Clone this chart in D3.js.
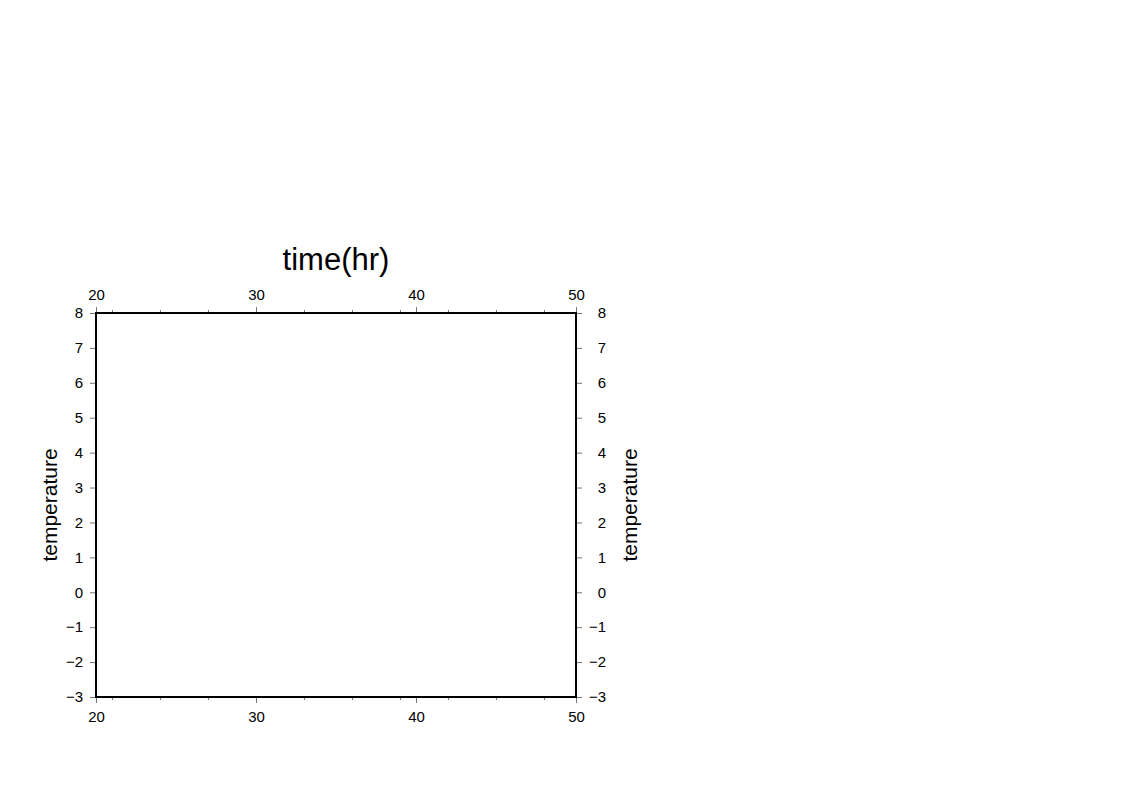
<!DOCTYPE html>
<html><head><meta charset="utf-8">
<script src="https://cdn.jsdelivr.net/npm/d3@7"></script>
<style>body{margin:0;background:#fff;} text{font-family:"Liberation Sans",Helvetica,Arial,sans-serif;}</style>
</head><body>
<svg id="c" width="1123" height="793"></svg>
<script>
const xDomain = [20, 50];
const yDomain = [-3, 8];
const xMajorTicks = [20, 30, 40, 50];
const xMinorTicks = [21, 24, 27, 33, 36, 39, 42, 45, 48];
const yTicks = [-3, -2, -1, 0, 1, 2, 3, 4, 5, 6, 7, 8];
const xTitle = "time(hr)";
const yTitle = "temperature";

const svg = d3.select("#c");
const L = 96, R = 576, T = 313, B = 697;
const x = d3.scaleLinear().domain(xDomain).range([L, R]);
const y = d3.scaleLinear().domain(yDomain).range([B, T]);
const fmt = d3.format("d");
const FS = 15;

function styleAxis(g, size){
  g.select(".domain").remove();
  g.selectAll(".tick line").attr("stroke", "#777").attr("stroke-width", 1);
  g.selectAll(".tick text").attr("fill", "#000").style("font-size", size + "px")
    .style("font-family", '"Liberation Sans",Helvetica,Arial,sans-serif');
}

// major x axes
svg.append("g").attr("transform", `translate(0,${T})`)
  .call(d3.axisTop(x).tickValues(xMajorTicks).tickFormat(fmt).tickSize(6).tickPadding(7))
  .call(g => styleAxis(g, FS));
svg.append("g").attr("transform", `translate(0,${B})`)
  .call(d3.axisBottom(x).tickValues(xMajorTicks).tickFormat(fmt).tickSize(6).tickPadding(8))
  .call(g => styleAxis(g, FS));
// minor x ticks
svg.append("g").attr("transform", `translate(0,${T})`)
  .call(d3.axisTop(x).tickValues(xMinorTicks).tickFormat("").tickSize(3))
  .call(g => styleAxis(g, FS));
svg.append("g").attr("transform", `translate(0,${B})`)
  .call(d3.axisBottom(x).tickValues(xMinorTicks).tickFormat("").tickSize(3))
  .call(g => styleAxis(g, FS));
// y axes
svg.append("g").attr("transform", `translate(${L},0)`)
  .call(d3.axisLeft(y).tickValues(yTicks).tickFormat(fmt).tickSize(6).tickPadding(7))
  .call(g => styleAxis(g, FS));
svg.append("g").attr("transform", `translate(${R},0)`)
  .call(d3.axisRight(y).tickValues(yTicks).tickFormat(fmt).tickSize(6).tickPadding(24))
  .call(g => styleAxis(g, FS))
  .call(g => g.selectAll(".tick text").attr("text-anchor", "end").attr("x", 30));

// frame
svg.append("rect").attr("x", L).attr("y", T).attr("width", R - L).attr("height", B - T)
  .attr("fill", "none").attr("stroke", "#000").attr("stroke-width", 2);

// titles
svg.append("text").attr("x", (L + R) / 2).attr("y", 270).attr("text-anchor", "middle")
  .style("font-size", "31px").attr("fill", "#000").text(xTitle);
svg.append("text").attr("transform", `translate(57,${(T + B) / 2}) rotate(-90)`)
  .attr("text-anchor", "middle").style("font-size", "21px").attr("fill", "#000").text(yTitle);
svg.append("text").attr("transform", `translate(637,${(T + B) / 2}) rotate(-90)`)
  .attr("text-anchor", "middle").style("font-size", "21px").attr("fill", "#000").text(yTitle);
</script>
</body></html>
